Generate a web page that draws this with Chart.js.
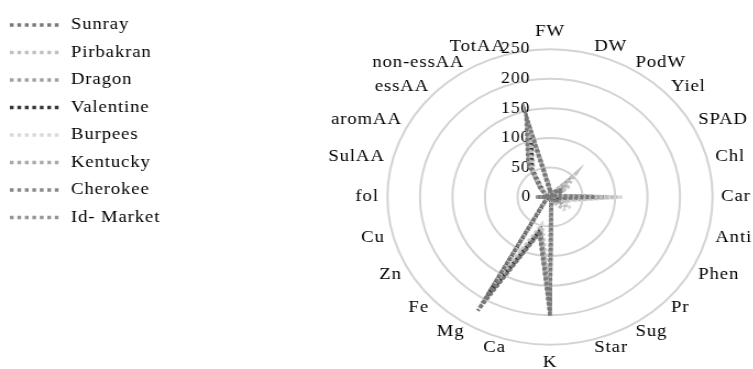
<!DOCTYPE html>
<html>
<head>
<meta charset="utf-8">
<script src="https://cdn.jsdelivr.net/npm/chart.js@4"></script>
<style>
  html, body { margin: 0; padding: 0; background: #fff; overflow: hidden; }
  #wrap { width: 1000px; height: 390px; transform: scaleX(1.1); transform-origin: 0 0; }
</style>
</head>
<body>
<div id="wrap"><canvas id="myChart" width="1000" height="390"></canvas></div>
<script>
// axis names, clockwise from the top
var categories = ['FW', 'DW', 'PodW', 'Yiel', 'SPAD', 'Chl', 'Car', 'Anti', 'Phen', 'Pr', 'Sug', 'Star',
                  'K', 'Ca', 'Mg', 'Fe', 'Zn', 'Cu', 'fol', 'SulAA', 'aromAA', 'essAA', 'non-essAA', 'TotAA'];

var sunray    = [12, 3, 6, 18, 22, 8, 70, 10, 12, 10, 5, 8, 202, 60, 222, 14, 4, 2, 18, 4, 8, 22, 68, 142];
var pirbakran = [10, 2, 5, 56, 28, 10, 104, 22, 28, 26, 8, 6, 165, 52, 170, 10, 3, 2, 12, 3, 6, 18, 58, 120];
var dragon    = [14, 3, 8, 37, 20, 9, 82, 12, 16, 14, 6, 8, 188, 62, 205, 12, 4, 2, 20, 4, 7, 20, 64, 135];
var valentine = [9, 2, 4, 14, 18, 10, 88, 8, 10, 8, 4, 5, 178, 58, 192, 10, 3, 1, 15, 3, 6, 16, 55, 112];
var burpees   = [11, 3, 6, 24, 30, 12, 112, 26, 34, 30, 10, 8, 150, 48, 150, 9, 3, 1, 10, 2, 5, 14, 50, 105];
var kentucky  = [13, 3, 7, 30, 24, 9, 92, 15, 20, 18, 6, 6, 180, 56, 185, 11, 4, 2, 16, 3, 6, 18, 60, 128];
var cherokee  = [15, 4, 9, 26, 20, 8, 78, 10, 14, 12, 5, 7, 196, 64, 212, 13, 4, 2, 22, 4, 8, 21, 66, 138];
var idMarket  = [12, 3, 7, 20, 22, 9, 74, 11, 13, 11, 5, 7, 192, 60, 200, 12, 4, 2, 18, 3, 7, 20, 62, 130];

var seriesNames = ['Sunray', 'Pirbakran', 'Dragon', 'Valentine', 'Burpees', 'Kentucky', 'Cherokee', 'Id- Market'];
var seriesData = [sunray, pirbakran, dragon, valentine, burpees, kentucky, cherokee, idMarket];
var seriesColors = ['#787878', '#c0c0c0', '#a0a0a0', '#363636', '#d9d9d9', '#a8a8a8', '#888888', '#959595'];

var tickValues = [0, 50, 100, 150, 200, 250];
var scaleMin = -0.01;

var serif = "'Liberation Serif', 'Times New Roman', serif";

// wider text like the original picture
var spacingPlugin = {
    id: 'spacing',
    beforeUpdate: function(chart) { chart.ctx.letterSpacing = '0.8px'; },
    beforeDraw: function(chart) { chart.ctx.letterSpacing = '0.8px'; }
};

var datasets = seriesNames.map(function(name, i) {
    return {
        label: name,
        data: seriesData[i],
        borderColor: seriesColors[i],
        backgroundColor: seriesColors[i],
        borderWidth: 3.4,
        borderDash: [3, 2],
        fill: false,
        pointRadius: 0,
        pointHoverRadius: 0
    };
});

function createChart() {
    new Chart(document.getElementById('myChart'), {
        type: 'radar',
        data: { labels: categories, datasets: datasets },
        plugins: [spacingPlugin],
        options: {
            responsive: false,
            animation: false,
            layout: { padding: { left: -8, right: -6, top: 21, bottom: 17 } },
            elements: { line: { tension: 0 } },
            plugins: {
                tooltip: { enabled: false },
                legend: {
                    position: 'chartArea',
                    align: 'start',
                    title: { display: true, text: '', padding: 0, font: { size: 7.5, lineHeight: 1 } },
                    labels: {
                        font: { family: serif, size: 17, lineHeight: 18.5 / 17 },
                        color: '#000',
                        usePointStyle: true,
                        pointStyle: 'line',
                        pointStyleWidth: 47,
                        padding: 9,
                        generateLabels: function(chart) {
                            return chart.data.datasets.map(function(ds, i) {
                                return {
                                    text: [ds.label],
                                    strokeStyle: ds.borderColor,
                                    fillStyle: ds.borderColor,
                                    lineWidth: 3.5,
                                    lineDash: [3.4, 3.4],
                                    pointStyle: 'line',
                                    fontColor: '#000',
                                    hidden: false,
                                    datasetIndex: i
                                };
                            });
                        }
                    }
                }
            },
            scales: {
                r: {
                    min: scaleMin,
                    max: 250,
                    afterBuildTicks: function(scale) {
                        scale.ticks = [{ value: scaleMin }].concat(tickValues.map(function(v) { return { value: v }; }));
                    },
                    angleLines: { display: false },
                    grid: {
                        circular: true,
                        lineWidth: 2,
                        color: function(c) { return c.tick && c.tick.value > 0 ? '#d3d3d3' : 'rgba(0,0,0,0)'; }
                    },
                    ticks: {
                        showLabelBackdrop: false,
                        backdropPadding: 0,
                        color: '#000',
                        font: { family: serif, size: 16 },
                        callback: function(value, index) {
                            if (index === 0) return '';
                            var s = String(value);
                            // trailing spaces push the centred label to the left of the axis
                            var n = s.length === 3 ? 13 : (s.length === 2 ? 11 : 9);
                            return s + ' '.repeat(n);
                        }
                    },
                    pointLabels: {
                        padding: -0.2,
                        color: '#000',
                        font: function(c) {
                            var big = c.index === 0 || c.index === 12;
                            return { family: serif, size: 17, lineHeight: big ? 1.2 : 0.01 };
                        }
                    }
                }
            }
        }
    });
}

createChart();
</script>
</body>
</html>
